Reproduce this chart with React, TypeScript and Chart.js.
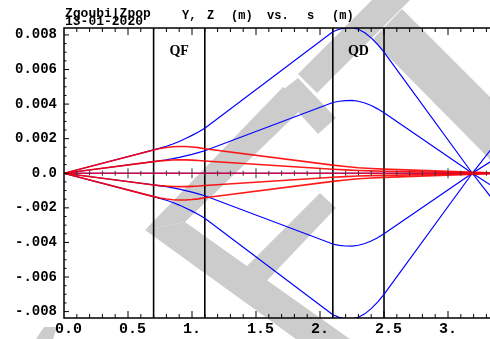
import { useEffect, useRef } from "react";
import { Chart, registerables } from "chart.js";

Chart.register(...registerables);

// ---------- axes ----------
const xMin = 0;
const xMax = 3.328;
const yMin = -0.00837;
const yMax = 0.0084;

const xTickValues = [0, 0.5, 1, 1.5, 2, 2.5, 3];
const xTickLabels = ["0.0", "0.5", "1. ", "1.5", "2. ", "2.5", "3. "];
const yTickValues = [-0.008, -0.006, -0.004, -0.002, 0, 0.002, 0.004, 0.006, 0.008];
const yTickLabels = ["-.008", "-.006", "-.004", "-.002", "0.0", "0.002", "0.004", "0.006", "0.008"];

// ---------- lattice ----------
const quadEdges = [0.7, 1.1, 2.1, 2.5];
const quadNames = ["QF", "QD"];
const quadCenters = [0.9, 2.3];

// ---------- Y trajectories (blue) ----------
const sBlue = [0, 0.7, 0.75, 0.8, 0.85, 0.9, 0.95, 1.0, 1.05, 1.1, 2.1, 2.15, 2.2, 2.25, 2.3, 2.35, 2.4, 2.45, 2.5, 3.19, 3.33];
const yOuterUp = [0, 0.00135, 0.00145, 0.00156, 0.00169, 0.00184, 0.00201, 0.00219, 0.00239, 0.0026, 0.00818, 0.00833, 0.00841, 0.00842, 0.00833, 0.00813, 0.00783, 0.00745, 0.007, 0, -0.00133];
const yInnerUp = [0, 0.000675, 0.000725, 0.00078, 0.000845, 0.00092, 0.001005, 0.001095, 0.001195, 0.0013, 0.00409, 0.004165, 0.004205, 0.00421, 0.004165, 0.004065, 0.003915, 0.003725, 0.0035, 0, -0.000665];
const yInnerDown = [0, -0.000675, -0.000725, -0.00078, -0.000845, -0.00092, -0.001005, -0.001095, -0.001195, -0.0013, -0.00409, -0.004165, -0.004205, -0.00421, -0.004165, -0.004065, -0.003915, -0.003725, -0.0035, 0, 0.000665];
const yOuterDown = [0, -0.00135, -0.00145, -0.00156, -0.00169, -0.00184, -0.00201, -0.00219, -0.00239, -0.0026, -0.00818, -0.00833, -0.00841, -0.00842, -0.00833, -0.00813, -0.00783, -0.00745, -0.007, 0, 0.00133];

// ---------- Z trajectories (red) ----------
const sRed = [0, 0.7, 0.75, 0.8, 0.85, 0.9, 0.95, 1.0, 1.05, 1.1, 2.1, 2.2, 2.3, 2.4, 2.5, 3.33];
const zOuterUp = [0, 0.00135, 0.00143, 0.00149, 0.00153, 0.00155, 0.00155, 0.00152, 0.00148, 0.00142, 0.00047, 0.00039, 0.00032, 0.000275, 0.00024, 0.00002];
const zInnerUp = [0, 0.000675, 0.000715, 0.000745, 0.000765, 0.000775, 0.000775, 0.00076, 0.00074, 0.00071, 0.000235, 0.000195, 0.00016, 0.000138, 0.00012, 0.00001];
const zInnerDown = [0, -0.000675, -0.000715, -0.000745, -0.000765, -0.000775, -0.000775, -0.00076, -0.00074, -0.00071, -0.000235, -0.000195, -0.00016, -0.000138, -0.00012, -0.00001];
const zOuterDown = [0, -0.00135, -0.00143, -0.00149, -0.00153, -0.00155, -0.00155, -0.00152, -0.00148, -0.00142, -0.00047, -0.00039, -0.00032, -0.000275, -0.00024, -0.00002];

const sAxis = [0, 3.33];
const onAxis = [0, 0];

// ---------- decoration (watermark, pixel polygons) ----------
const watermark: number[][][] = [
  [[145, 230], [283, 87], [307, 104], [185, 222]],
  [[280, 92], [298, 78], [336, 118], [318, 134]],
  [[145, 230], [185, 222], [354, 342], [300, 342]],
  [[240, 273], [320, 193], [336, 208], [258, 290]],
  [[298, 74], [384, -12], [422, -12], [317, 93]],
  [[372, 40], [402, 9], [540, 147], [540, 210]],
  [[34, 342], [44, 327], [57, 327], [52, 342]],
];

const MONO = "'Liberation Mono', 'DejaVu Sans Mono', monospace";

function pts(xs: number[], ys: number[]) {
  return xs.map((x, i) => ({ x, y: ys[i] }));
}

function line(label: string, xs: number[], ys: number[], color: string, width: number, order: number) {
  return {
    label,
    data: pts(xs, ys),
    showLine: true,
    borderColor: color,
    backgroundColor: color,
    borderWidth: width,
    pointRadius: 0,
    pointHoverRadius: 0,
    fill: false,
    tension: 0,
    order,
  };
}

const decorPlugin = {
  id: "decor",
  beforeDraw(chart: any) {
    const ctx = chart.ctx;
    ctx.save();
    ctx.fillStyle = "#cccccc";
    for (const poly of watermark) {
      ctx.beginPath();
      poly.forEach(([x, y], i) => (i ? ctx.lineTo(x, y) : ctx.moveTo(x, y)));
      ctx.closePath();
      ctx.fill();
    }
    ctx.restore();
  },
  afterDatasetsDraw(chart: any) {
    const ctx = chart.ctx;
    const xs = chart.scales.x;
    const ys = chart.scales.y;
    const area = chart.chartArea;
    const y0 = ys.getPixelForValue(0);
    ctx.save();
    ctx.strokeStyle = "#333";
    ctx.lineWidth = 1;
    for (let i = 1; i <= 40; i++) {
      const px = xs.getPixelForValue(i / 10);
      if (px > area.right) break;
      const h = i % 5 === 0 ? 5 : 2.5;
      ctx.beginPath();
      ctx.moveTo(px, y0 - h);
      ctx.lineTo(px, y0 + h);
      ctx.stroke();
    }
    ctx.fillStyle = "#000";
    ctx.font = "bold 14px 'Liberation Serif', 'DejaVu Serif', serif";
    ctx.textAlign = "center";
    ctx.textBaseline = "alphabetic";
    quadNames.forEach((n, i) => {
      ctx.fillText(n, xs.getPixelForValue(quadCenters[i]), area.top + 27);
    });
    ctx.restore();
  },
  afterDraw(chart: any) {
    const ctx = chart.ctx;
    const xs = chart.scales.x;
    const ys = chart.scales.y;
    const a = chart.chartArea;
    ctx.save();
    ctx.strokeStyle = "#000";
    ctx.lineWidth = 1.5;
    ctx.beginPath();
    ctx.moveTo(a.right + 2, a.top);
    ctx.lineTo(a.left, a.top);
    ctx.lineTo(a.left, a.bottom);
    ctx.lineTo(a.right + 2, a.bottom);
    ctx.stroke();
    ctx.lineWidth = 1;
    for (let i = 1; i <= 40; i++) {
      const px = xs.getPixelForValue(i / 10);
      if (px > a.right + 1) break;
      const h = i % 5 === 0 ? 7 : 4;
      ctx.beginPath();
      ctx.moveTo(px, a.top);
      ctx.lineTo(px, a.top + h);
      ctx.moveTo(px, a.bottom);
      ctx.lineTo(px, a.bottom - h);
      ctx.stroke();
    }
    for (let i = -16; i <= 16; i++) {
      const v = i * 0.0005;
      const py = ys.getPixelForValue(v);
      const h = i % 4 === 0 ? 5 : 2.5;
      ctx.beginPath();
      ctx.moveTo(a.left, py);
      ctx.lineTo(a.left + h, py);
      ctx.stroke();
    }
    ctx.fillStyle = "#000";
    ctx.textAlign = "left";
    ctx.textBaseline = "alphabetic";
    ctx.font = `bold 13px ${MONO}`;
    ctx.fillText("Zgoubi|Zpop", 65, 16.5);
    ctx.fillText("13-01-2020", 65, 24.5);
    ctx.font = `bold 12px ${MONO}`;
    const title: [string, number][] = [["Y,", 182], ["Z", 207], ["(m)", 231], ["vs.", 267], ["s", 307], ["(m)", 332]];
    title.forEach(([t, x]) => ctx.fillText(t, x, 19));
    ctx.restore();
  },
};

export default function App() {
  const ref = useRef<HTMLCanvasElement>(null);
  useEffect(() => {
    const datasets: any[] = [];
    quadEdges.forEach((s, i) => {
      datasets.push(line(`edge${i}`, [s, s], [yMin, yMax], "#000", 1.6, 5));
    });
    datasets.push(line("Y0", sAxis, onAxis, "#0000ff", 1, 4));
    datasets.push(line("Y1", sBlue, yOuterUp, "#0000ff", 1.2, 3));
    datasets.push(line("Y2", sBlue, yInnerUp, "#0000ff", 1.2, 3));
    datasets.push(line("Y3", sBlue, yInnerDown, "#0000ff", 1.2, 3));
    datasets.push(line("Y4", sBlue, yOuterDown, "#0000ff", 1.2, 3));
    datasets.push(line("Z1", sRed, zOuterUp, "rgba(255,0,0,0.9)", 1.6, 1));
    datasets.push(line("Z2", sRed, zInnerUp, "rgba(255,0,0,0.9)", 1.6, 1));
    datasets.push(line("Z3", sRed, zInnerDown, "rgba(255,0,0,0.9)", 1.6, 1));
    datasets.push(line("Z4", sRed, zOuterDown, "rgba(255,0,0,0.9)", 1.6, 1));
    datasets.push(line("Z0", sAxis, onAxis, "rgba(230,0,40,0.85)", 1.6, 0));

    const chart = new Chart(ref.current as HTMLCanvasElement, {
      type: "scatter",
      data: { datasets },
      options: {
        responsive: false,
        animation: false,
        events: [],
        layout: { padding: { top: 28, right: 0, bottom: 0, left: 0 } },
        plugins: { legend: { display: false }, tooltip: { enabled: false }, title: { display: false } },
        scales: {
          x: {
            type: "linear",
            min: xMin,
            max: xMax,
            grid: { display: false, drawTicks: false },
            border: { display: false },
            afterBuildTicks: (scale: any) => {
              scale.ticks = xTickValues.map((v) => ({ value: v }));
            },
            afterFit: (scale: any) => {
              scale.height = 21;
            },
            ticks: {
              autoSkip: false,
              maxRotation: 0,
              padding: 2,
              labelOffset: 4.5,
              color: "#000",
              font: { family: MONO, size: 15, weight: "bold" },
              callback: (_v: any, i: number) => xTickLabels[i],
            },
          },
          y: {
            type: "linear",
            min: yMin,
            max: yMax,
            grid: { display: false, drawTicks: false },
            border: { display: false },
            afterBuildTicks: (scale: any) => {
              scale.ticks = yTickValues.map((v) => ({ value: v }));
            },
            afterFit: (scale: any) => {
              scale.width = 64;
            },
            ticks: {
              autoSkip: false,
              padding: 7,
              color: "#000",
              font: { family: MONO, size: 14, weight: "bold" },
              callback: (_v: any, i: number) => yTickLabels[i],
            },
          },
        },
      } as any,
      plugins: [decorPlugin],
    });
    return () => chart.destroy();
  }, []);
  return (
    <div style={{ position: "fixed", left: 0, top: 0, width: 490, height: 339, background: "#fff" }}>
      <canvas ref={ref} width={490} height={339} style={{ display: "block", width: 490, height: 339 }} />
    </div>
  );
}
